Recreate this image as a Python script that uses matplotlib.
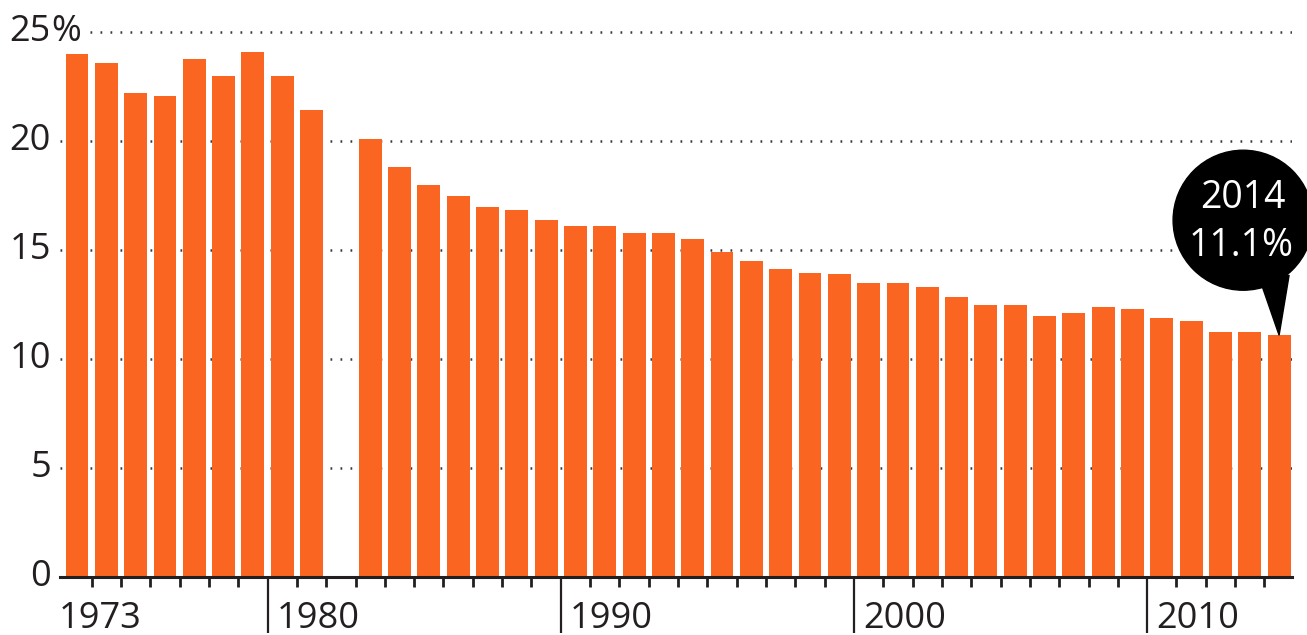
import matplotlib
matplotlib.use("Agg")
import matplotlib.pyplot as plt
from matplotlib.patches import Circle, Polygon
from matplotlib.transforms import offset_copy, IdentityTransform

# ---- data ----
years = [1973, 1974, 1975, 1976, 1977, 1978, 1979, 1980, 1981,
         1983, 1984, 1985, 1986, 1987, 1988, 1989, 1990, 1991, 1992,
         1993, 1994, 1995, 1996, 1997, 1998, 1999, 2000, 2001, 2002,
         2003, 2004, 2005, 2006, 2007, 2008, 2009, 2010, 2011, 2012,
         2013, 2014]
values = [24.0, 23.6, 22.2, 22.1, 23.8, 23.0, 24.1, 23.0, 21.45,
          20.1, 18.8, 18.0, 17.5, 17.0, 16.85, 16.4, 16.1, 16.1, 15.8,
          15.8, 15.5, 14.9, 14.5, 14.15, 13.95, 13.9, 13.5, 13.5, 13.3,
          12.85, 12.5, 12.5, 11.97, 12.1, 12.4, 12.3, 11.9, 11.75, 11.25,
          11.25, 11.1]
ytick_vals = [0, 5, 10, 15, 20, 25]
decade_labels = ["1973", "1980", "1990", "2000", "2010"]
decade_years = [1973, 1980, 1990, 2000, 2010]
callout_year = "2014"
callout_value = "11.1%"

BAR = "#FA6622"
INK = "#231f20"
FONT = "Open Sans"
FS = 26

W, H = 1307, 635
fig = plt.figure(figsize=(W / 100, H / 100), dpi=100)
fig.patch.set_facecolor("white")
ax = fig.add_axes([60 / W, (H - 577) / H, (1292 - 60) / W, (577 - 27) / H])

ax.bar(years, values, width=0.78, color=BAR, zorder=2)
ax.set_xlim(1972.42, 2014.44)
ax.set_ylim(0, 25.25)

for s in ["top", "right", "left"]:
    ax.spines[s].set_visible(False)
ax.spines["bottom"].set_color(INK)
ax.spines["bottom"].set_linewidth(2.2)
ax.spines["bottom"].set_zorder(3)

# grid
ax.set_yticks(ytick_vals)
ax.set_yticklabels([])
ax.tick_params(axis="y", length=0)
ax.yaxis.grid(True, color="#3a3a3a", linewidth=1.8, linestyle=(0, (0.7, 3.3)))
ax.set_axisbelow(True)

# y labels
ylab_tr = offset_copy(ax.get_yaxis_transform(), fig=fig, x=-9, y=0, units="dots")
for v in ytick_vals:
    ax.text(0, v, str(v), transform=ylab_tr, ha="right", va="center",
            fontsize=FS, family=FONT, color=INK)
ax.text(0, ytick_vals[-1], "%", transform=ylab_tr, ha="left", va="center",
        fontsize=FS, family=FONT, color=INK, zorder=4,
        bbox=dict(facecolor="white", edgecolor="none", pad=2))

# x ticks
major = [y - 0.5 for y in decade_years[1:]]
minor = [y + 0.5 for y in range(years[0], years[-1]) if (y + 0.5) not in major]
ax.set_xticks(major)
ax.set_xticks(minor, minor=True)
ax.set_xticklabels([])
ax.tick_params(axis="x", which="major", length=40, width=1.6, color=INK, direction="out")
ax.tick_params(axis="x", which="minor", length=7, width=2.0, color=INK, direction="out")

# x labels
xlab_tr = offset_copy(ax.get_xaxis_transform(), fig=fig, x=9, y=-51, units="dots")
xlab_tr0 = offset_copy(ax.transAxes, fig=fig, x=-1, y=-51, units="dots")
for lab, yr in zip(decade_labels, decade_years):
    if yr == years[0]:
        ax.text(0, 0, lab, transform=xlab_tr0, ha="left", va="baseline",
                fontsize=FS, family=FONT, color=INK)
    else:
        ax.text(yr - 0.5, 0, lab, transform=xlab_tr, ha="left", va="baseline",
                fontsize=FS, family=FONT, color=INK)

# callout bubble anchored at last bar top
fig.canvas.draw()
tx, ty = ax.transData.transform((years[-1], values[-1]))
cx, cy = tx - 36, ty + 115
bubble = Circle((cx, cy), 70, transform=IdentityTransform(), color="black",
                zorder=5, clip_on=False)
tail = Polygon([(tx - 18, ty + 52), (tx + 10, ty + 60), (tx, ty)], closed=True,
               transform=IdentityTransform(), color="black", zorder=5, clip_on=False)
fig.add_artist(bubble)
fig.add_artist(tail)
fig.text(cx / W, (cy + 22) / H, callout_year, ha="center", va="center",
         fontsize=FS + 1, family=FONT, color="white", zorder=6)
fig.text((cx - 2) / W, (cy - 26) / H, callout_value, ha="center", va="center",
         fontsize=FS + 1, family=FONT, color="white", zorder=6)

fig.savefig("out.png", dpi=100, facecolor="white")
